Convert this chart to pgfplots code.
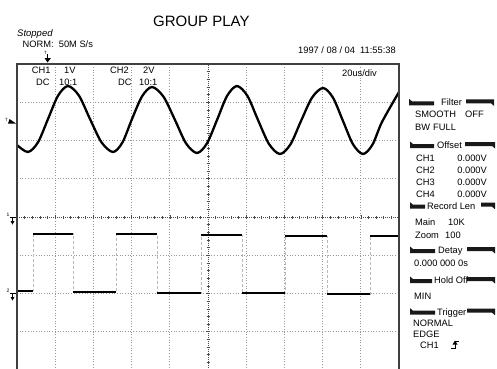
\documentclass[border=0pt]{standalone}
\usepackage{pgfplots}
\pgfplotsset{compat=1.18}
\usepackage{fontspec}
\setmainfont{Liberation Sans}

% header bar of the side panel: #1 centre, #2-#3 left wedge, #4-#5 right wedge
\newcommand{\hdr}[5]{%
  \fill[black!90] (#2,#1-3) -- (#3,#1-3) -- (#3,#1+1) -- (#2+3,#1+1) -- (#2,#1+3.5) -- cycle;
  \fill[black!90] (#4,#1+3) -- (#5,#1+3) -- (#5,#1-3.5) -- (#5-3,#1-1) -- (#4,#1-1) -- cycle;}
\newcommand{\gnd}[2]{% ground marker at height #1, label #2
  \node[font=\fontsize{5}{5}\selectfont] at (6.5,#1+1) {#2};
  \draw[line width=0.6pt] (9.5,#1) -- (15.5,#1);
  \draw[line width=0.6pt] (12.5,#1) -- (12.5,#1-5);
  \fill (10.5,#1-4) -- (14.5,#1-4) -- (12.5,#1-7.5) -- cycle;}

\begin{document}
\begin{tikzpicture}[x=1pt,y=1pt]
\begin{axis}[
    at={(17pt,-2pt)}, anchor=south west,
    scale only axis, width=382pt, height=306pt,
    xmin=-100, xmax=100, ymin=-4, ymax=4,
    enlargelimits=false,
    axis lines=middle,
    axis line style={-, black!70, line width=1pt, dash pattern=on 1pt off 1pt},
    every inner x axis line/.append style={-},
    every inner y axis line/.append style={-},
    xtick={-100,-80,...,100}, ytick={-4,...,4},
    minor x tick num=4, minor y tick num=4,
    xticklabels={}, yticklabels={},
    tick align=center, major tick length=4pt, minor tick length=3pt,
    tick style={black!70, line width=0.6pt},
    grid=major, grid style={gray!80, line width=0.7pt, dotted},
    unbounded coords=jump,
    ]

% CH1, sine (time in us, level in divisions)
\addplot[black, line width=2.3pt, smooth] coordinates {
    (-100,1.882) (-94.24,1.699) (-89.0,1.953) (-83.77,2.562) (-78.53,3.171)
    (-73.30,3.425) (-67.54,3.171) (-61.78,2.562) (-55.76,1.953) (-49.74,1.699)
    (-44.76,1.953) (-39.79,2.562) (-34.55,3.153) (-29.32,3.399) (-23.30,3.145)
    (-17.28,2.536) (-11.52,1.927) (-5.76,1.673) (-0.52,1.927) (4.71,2.536)
    (9.95,3.163) (15.18,3.425) (20.68,3.163) (26.18,2.536) (31.94,1.908)
    (37.70,1.647) (43.19,1.901) (48.69,2.510) (54.45,3.119) (60.21,3.373)
    (65.45,3.119) (70.68,2.510) (75.92,1.901) (81.15,1.647) (86.13,1.893)
    (91.10,2.484) (100,3.268)};

% CH2, square wave: faint edges
\addplot[gray!55, line width=0.7pt, densely dashed] coordinates {
    (-100,-1.93) (-91.6,-1.93) (-91.6,-0.44) (-70.7,-0.44) (-70.7,-1.96)
    (-48.2,-1.96) (-48.2,-0.44) (-26.7,-0.44) (-26.7,-1.99) (-3.7,-1.99)
    (-3.7,-0.47) (17.8,-0.47) (17.8,-1.99) (40.3,-1.99) (40.3,-0.50)
    (62.3,-0.50) (62.3,-2.01) (84.8,-2.01) (84.8,-0.50) (100,-0.50)};

% CH2, square wave: levels
\addplot[black, line width=2.6pt] coordinates {
    (-100,-1.93) (-91.6,-1.93) (-91.6,nan)
    (-91.6,-0.44) (-70.7,-0.44) (-70.7,nan)
    (-70.7,-1.96) (-48.2,-1.96) (-48.2,nan)
    (-48.2,-0.44) (-26.7,-0.44) (-26.7,nan)
    (-26.7,-1.99) (-3.7,-1.99) (-3.7,nan)
    (-3.7,-0.47) (17.8,-0.47) (17.8,nan)
    (17.8,-1.99) (40.3,-1.99) (40.3,nan)
    (40.3,-0.50) (62.3,-0.50) (62.3,nan)
    (62.3,-2.01) (84.8,-2.01) (84.8,nan)
    (84.8,-0.50) (100,-0.50)};
\end{axis}

% screen frame
\draw[line width=1.5pt, black!75] (17,-5) -- (17,304) -- (399,304) -- (399,-5);

\begin{scope}[every node/.style={inner sep=0pt, anchor=base west},
              font=\fontsize{9.3}{10}\selectfont]
% top
\node[font=\fontsize{15}{16}\selectfont] at (153,341.3) {GROUP PLAY};
\node[font=\fontsize{9.5}{10}\selectfont\itshape] at (17,332) {Stopped};
\node at (22.5,320.7) {NORM:\ \ 50M S/s};
\node at (298,314.7) {1997 / 08 / 04\ \ 11:55:38};
% trigger position
\node[font=\fontsize{4.5}{5}\selectfont] at (44,314) {T};
\draw[line width=0.7pt] (47.5,314) -- (47.5,308);
\fill (44.5,310) -- (51,310) -- (47.5,305.5) -- cycle;

% inside the screen
\node at (342,291.3) {20us/div};
\node at (31.7,294.5) {CH1}; \node at (64,294.5) {1V};
\node at (36,283) {DC};  \node at (59,283) {10:1};
\node at (110,294.5) {CH2}; \node at (143,294.5) {2V};
\node at (118,283) {DC}; \node at (139,283) {10:1};

% left markers
\node[font=\fontsize{4.5}{5}\selectfont] at (5,247) {T};
\fill (8,244.5) -- (16,244.5) -- (9.5,249) -- cycle;
\gnd{151}{1}
\gnd{75}{2}

% side panel
\hdr{265.7}{409}{434}{466}{494}
\node at (441,262.3) {Filter};
\node at (415,250.6) {SMOOTH}; \node at (465,250.6) {OFF};
\node at (415,237.3) {BW}; \node at (433,237.3) {FULL};
\hdr{223}{410}{434}{465}{495}
\node at (437,219.6) {Offset};
\node at (416,206.3) {CH1}; \node[anchor=base east] at (487,206.3) {0.000V};
\node at (416,194.6) {CH2}; \node[anchor=base east] at (487,194.6) {0.000V};
\node at (416,182.9) {CH3}; \node[anchor=base east] at (487,182.9) {0.000V};
\node at (416,170.9) {CH4}; \node[anchor=base east] at (487,170.9) {0.000V};
\hdr{162.3}{410}{425}{481}{495}
\node at (427,158.9) {Record Len};
\node at (415,142.9) {Main}; \node at (448,142.9) {10K};
\node at (415,129.6) {Zoom}; \node at (445,129.6) {100};
\hdr{118}{410}{435}{467}{495}
\node at (438,114.6) {Detay};
\node at (414,101.3) {0.000 000 0s};
\hdr{88}{410}{432}{467}{495}
\node at (434,84.6) {Hold Off};
\node at (414,68.9) {MIN};
\hdr{56.3}{410}{435}{467}{495}
\node at (437,52.9) {Trigger};
\node at (413,41.3) {NORMAL};
\node at (413,30.6) {EDGE};
\node at (420,19.6) {CH1};
\draw[line width=0.7pt] (451,19.5) -- (455,19.5) -- (455,27) -- (459,27);
\fill (452.5,23.5) -- (457.5,23.5) -- (455,27.5) -- cycle;
\end{scope}

\pgfresetboundingbox
\useasboundingbox (0,0) rectangle (497,368);
\end{tikzpicture}
\end{document}
